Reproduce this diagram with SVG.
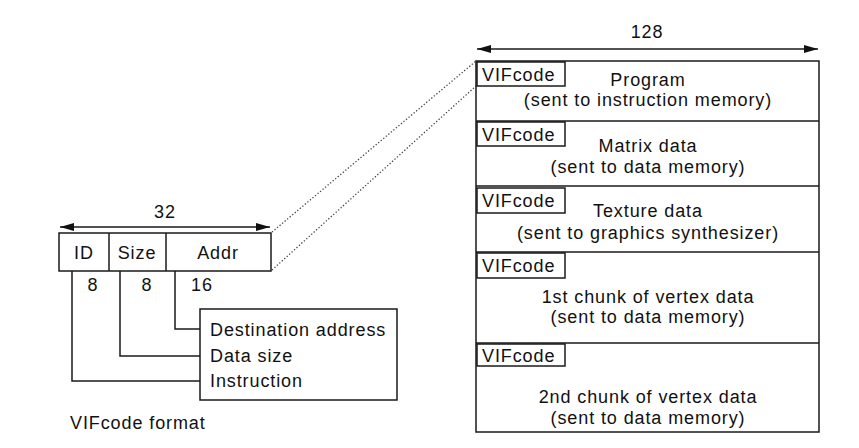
<svg xmlns="http://www.w3.org/2000/svg" width="859" height="448" viewBox="0 0 859 448">
<style>
text{font-family:"Liberation Sans",Arial,sans-serif;font-size:18px;fill:#111;letter-spacing:0.9px}
.c{text-anchor:middle}
.box{fill:#fff;stroke:#1a1a1a;stroke-width:1.5}
.ln{fill:none;stroke:#1a1a1a;stroke-width:1.5}
.dot{fill:none;stroke:#444;stroke-width:1.3;stroke-dasharray:1.3 2}
</style>
<defs>
<marker id="ah" viewBox="0 0 14 8" refX="14" refY="4" markerWidth="14" markerHeight="8" markerUnits="userSpaceOnUse" orient="auto-start-reverse">
<path d="M0,0 L14,4 L0,8 Z" fill="#111"/>
</marker>
</defs>
<rect width="859" height="448" fill="#fff"/>
<g id="connectors">
<line class="ln" x1="60" y1="227" x2="270" y2="227" marker-start="url(#ah)" marker-end="url(#ah)"/>
<line class="ln" x1="477" y1="49" x2="818" y2="49" marker-start="url(#ah)" marker-end="url(#ah)"/>
<line class="dot" x1="272" y1="232" x2="476" y2="61"/>
<line class="dot" x1="272" y1="270" x2="476" y2="86"/>
<polyline class="ln" points="175,271 175,329 200,329"/>
<polyline class="ln" points="120,271 120,356 200,356"/>
<polyline class="ln" points="72,271 72,381 200,381"/>
</g>
<g id="dim32"><text class="c" x="165" y="218">32</text></g>
<g id="dim128"><text class="c" x="647" y="38">128</text></g>
<g id="vifcode-format">
<rect class="box" x="59" y="233" width="212" height="38"/>
<line class="ln" x1="109" y1="233" x2="109" y2="271"/>
<line class="ln" x1="166" y1="233" x2="166" y2="271"/>
<text class="c" x="84" y="259">ID</text>
<text class="c" x="137" y="259">Size</text>
<text class="c" x="218" y="259">Addr</text>
<text class="c" x="93" y="291">8</text>
<text class="c" x="147" y="291">8</text>
<text class="c" x="202" y="291">16</text>
</g>
<g id="field-labels">
<rect class="box" x="200" y="309" width="197" height="91"/>
<text x="210" y="336">Destination address</text>
<text x="210" y="362">Data size</text>
<text x="210" y="387">Instruction</text>
</g>
<g id="caption"><text x="70" y="429">VIFcode format</text></g>
<g id="packet">
<rect class="box" x="476" y="61" width="343" height="371"/>
<line class="ln" x1="476" y1="121" x2="819" y2="121"/>
<line class="ln" x1="476" y1="186" x2="819" y2="186"/>
<line class="ln" x1="476" y1="252" x2="819" y2="252"/>
<line class="ln" x1="476" y1="343" x2="819" y2="343"/>
</g>
<g id="row1">
<rect class="box" x="477" y="62" width="88" height="24"/>
<text x="482" y="81">VIFcode</text>
<text class="c" x="648" y="86">Program</text>
<text class="c" x="648" y="106">(sent to instruction memory)</text>
</g>
<g id="row2">
<rect class="box" x="477" y="122" width="88" height="24"/>
<text x="482" y="141">VIFcode</text>
<text class="c" x="648" y="152">Matrix data</text>
<text class="c" x="648" y="173">(sent to data memory)</text>
</g>
<g id="row3">
<rect class="box" x="477" y="188" width="88" height="25"/>
<text x="482" y="207">VIFcode</text>
<text class="c" x="648" y="217">Texture data</text>
<text class="c" x="648" y="239">(sent to graphics synthesizer)</text>
</g>
<g id="row4">
<rect class="box" x="477" y="253" width="88" height="25"/>
<text x="482" y="272">VIFcode</text>
<text class="c" x="648" y="303">1st chunk of vertex data</text>
<text class="c" x="648" y="323">(sent to data memory)</text>
</g>
<g id="row5">
<rect class="box" x="477" y="344" width="88" height="22"/>
<text x="482" y="362">VIFcode</text>
<text class="c" x="648" y="403">2nd chunk of vertex data</text>
<text class="c" x="648" y="424">(sent to data memory)</text>
</g>
</svg>
